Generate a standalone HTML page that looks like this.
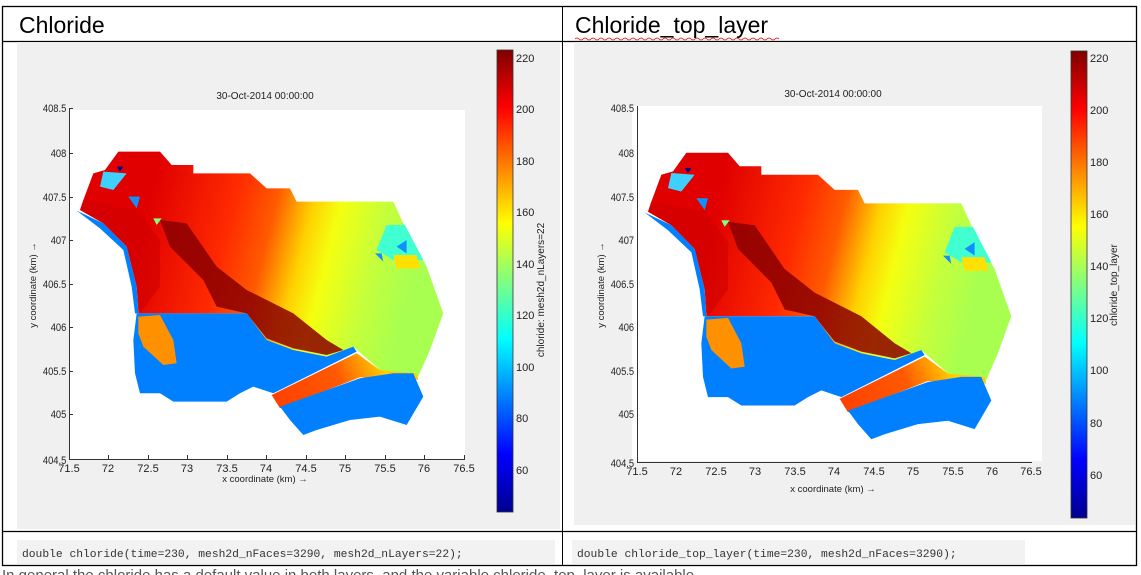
<!DOCTYPE html>
<html><head><meta charset="utf-8"><style>
html,body{margin:0;padding:0;background:#fff;}
body{width:1141px;height:575px;position:relative;overflow:hidden;font-family:"Liberation Sans",sans-serif;}
</style></head><body>
<svg width="1141" height="575" xmlns="http://www.w3.org/2000/svg" style="position:absolute;left:0;top:0">
<defs>
<linearGradient id="jet" x1="0" y1="1" x2="0" y2="0">
<stop offset="0" stop-color="#00008f"/><stop offset="0.125" stop-color="#0000ff"/>
<stop offset="0.375" stop-color="#00ffff"/><stop offset="0.5" stop-color="#80ff80"/><stop offset="0.625" stop-color="#ffff00"/>
<stop offset="0.875" stop-color="#ff0000"/><stop offset="1" stop-color="#800000"/>
</linearGradient>
<linearGradient id="warm" gradientUnits="userSpaceOnUse" x1="250" y1="250" x2="1050" y2="450">
<stop offset="0" stop-color="#e00000"/><stop offset="0.3" stop-color="#ff2a00"/>
<stop offset="0.45" stop-color="#ff5a00"/><stop offset="0.58" stop-color="#ffd000"/>
<stop offset="0.68" stop-color="#f4ff10"/><stop offset="0.85" stop-color="#c4ff3c"/><stop offset="1" stop-color="#a8ff50"/>
</linearGradient>
<linearGradient id="chan" gradientUnits="userSpaceOnUse" x1="640" y1="780" x2="960" y2="650">
<stop offset="0" stop-color="#ff4000"/><stop offset="0.6" stop-color="#ff5a00"/><stop offset="1" stop-color="#ffd000"/>
</linearGradient>
<g id="map">
<polygon fill="url(#warm)" points="175,35 300,35 335,75 400,75 400,100 570,100 620,145 690,145 710,185 1000,185 1030,250 1100,380 1150,520 1110,630 1070,720 960,690 880,620 800,650 700,630 620,600 560,520 300,520 235,520 230,440 200,320 130,250 60,210 70,180 100,100 135,90"/>
<polygon fill="#8a0000" opacity="0.85" points="300,240 380,250 470,380 560,450 700,520 800,600 850,630 800,645 700,625 620,595 560,520 470,500 430,420 330,320"/>
<polygon fill="#d00000" opacity="0.6" points="70,180 230,210 300,300 300,440 240,520 230,440 200,320 130,250 60,210"/>
<polygon fill="#0080ff" points="50,212 130,250 200,320 230,440 235,520 225,520 215,440 190,330 120,265"/>
<polygon fill="#0080ff" points="230,520 300,520 560,520 620,600 700,630 800,650 880,620 890,635 640,760 580,740 540,760 500,785 340,785 300,760 240,760 225,700 220,600"/>
<polygon fill="#ff9000" points="235,530 300,525 340,600 350,670 310,675 250,620 235,580"/>
<polygon fill="url(#chan)" points="635,765 890,640 960,690 1070,700 1075,720 900,712 660,805"/>
<polygon fill="#0080ff" points="660,800 900,715 1000,700 1060,700 1090,770 1040,855 960,830 870,840 770,870 730,885 690,840"/>
<polygon fill="#40ffd0" points="980,255 1035,255 1090,360 1000,360 950,330"/>
<polygon fill="#ffe000" points="1000,345 1070,345 1080,385 1010,385"/>
<polygon fill="#1090ff" points="1010,320 1040,300 1040,340"/>
<polygon fill="#1090ff" points="945,340 965,340 970,365"/>
<polygon fill="#40d0ff" points="130,95 200,100 160,150 120,140"/>
<polygon fill="#00008f" points="170,80 190,80 180,95"/>
<polygon fill="#80ff80" points="280,235 305,235 290,255"/>
<polygon fill="#1090ff" points="205,170 240,170 230,205"/>
</g>
</defs>

<rect x="2.5" y="6.5" width="1134" height="559" fill="none" stroke="#000" stroke-width="1.3"/>
<line x1="2" y1="41.5" x2="1137" y2="41.5" stroke="#000" stroke-width="1.3"/>
<line x1="2" y1="531.5" x2="1137" y2="531.5" stroke="#000" stroke-width="1.3"/>
<line x1="562.5" y1="6" x2="562.5" y2="566" stroke="#000" stroke-width="1"/>
<text x="19" y="33" font-size="23" font-family="Liberation Sans,sans-serif">Chloride</text>
<text x="575" y="33" font-size="23" font-family="Liberation Sans,sans-serif">Chloride_top_layer</text>
<path d="M575 39 q2 -2 4 0 t4 0 t4 0 t4 0 t4 0 t4 0 t4 0 t4 0 t4 0 t4 0 t4 0 t4 0 t4 0 t4 0 t4 0 t4 0 t4 0 t4 0 t4 0 t4 0 t4 0 t4 0 t4 0 t4 0 t4 0 t4 0 t4 0 t4 0 t4 0 t4 0 t4 0 t4 0 t4 0 t4 0 t4 0 t4 0 t4 0 t4 0 t4 0 t4 0 t4 0 t4 0 t4 0 t4 0 t4 0 t4 0 t4 0 t4 0 t4 0 t4 0 t4 0" stroke="#e00" fill="none" stroke-width="0.8"/>

<rect x="17" y="42" width="543" height="487" fill="#f0f0f0"/>
<rect x="69" y="110" width="396" height="350" fill="#fff"/>
<use href="#map" transform="translate(60,140) scale(0.3333)"/>
<g stroke="#333" stroke-width="1" fill="none">
<line x1="69.5" y1="108" x2="69.5" y2="460"/><line x1="69" y1="459.5" x2="465" y2="459.5"/>
</g>
<g font-size="11" fill="#222" text-anchor="end" font-family="Liberation Sans,sans-serif" transform="scale(0.85,1)">
<text x="78" y="112">408.5</text><text x="78" y="157">408</text><text x="78" y="201">407.5</text><text x="78" y="244">407</text><text x="78" y="288">406.5</text><text x="78" y="331">406</text><text x="78" y="375">405.5</text><text x="78" y="418">405</text><text x="78" y="464">404.5</text>
</g>
<g stroke="#333"><line x1="69" y1="108.5" x2="73" y2="108.5"/><line x1="69" y1="153.5" x2="73" y2="153.5"/><line x1="69" y1="197.5" x2="73" y2="197.5"/><line x1="69" y1="240.5" x2="73" y2="240.5"/><line x1="69" y1="284.5" x2="73" y2="284.5"/><line x1="69" y1="327.5" x2="73" y2="327.5"/><line x1="69" y1="371.5" x2="73" y2="371.5"/><line x1="69" y1="414.5" x2="73" y2="414.5"/>
<line x1="108.5" y1="455" x2="108.5" y2="460"/><line x1="148.5" y1="455" x2="148.5" y2="460"/><line x1="187.5" y1="455" x2="187.5" y2="460"/><line x1="227.5" y1="455" x2="227.5" y2="460"/><line x1="266.5" y1="455" x2="266.5" y2="460"/><line x1="306.5" y1="455" x2="306.5" y2="460"/><line x1="345.5" y1="455" x2="345.5" y2="460"/><line x1="385.5" y1="455" x2="385.5" y2="460"/><line x1="424.5" y1="455" x2="424.5" y2="460"/><line x1="464.5" y1="455" x2="464.5" y2="460"/></g>
<g font-size="11" fill="#222" text-anchor="middle" font-family="Liberation Sans,sans-serif">
<text x="69" y="472">71.5</text><text x="108" y="472">72</text><text x="148" y="472">72.5</text><text x="187" y="472">73</text><text x="227" y="472">73.5</text><text x="266" y="472">74</text><text x="306" y="472">74.5</text><text x="345" y="472">75</text><text x="385" y="472">75.5</text><text x="424" y="472">76</text><text x="464" y="472">76.5</text>
<text x="265" y="482" font-size="9.5">x coordinate (km) →</text>
<text x="265" y="99" font-size="10">30-Oct-2014 00:00:00</text>
<text transform="translate(36,285) rotate(-90)" font-size="9.5">y coordinate (km) →</text>
</g>
<rect x="497" y="50" width="16" height="462" fill="url(#jet)" stroke="#333" stroke-width="0.8"/>
<g font-size="11" fill="#222" font-family="Liberation Sans,sans-serif">
<text x="516" y="62">220</text><text x="516" y="113">200</text><text x="516" y="165">180</text><text x="516" y="216">160</text><text x="516" y="268">140</text><text x="516" y="319">120</text><text x="516" y="371">100</text><text x="516" y="422">80</text><text x="516" y="474">60</text>
<text transform="translate(544,290) rotate(-90)" font-size="10" text-anchor="middle">chloride: mesh2d_nLayers=22</text>
</g>

<rect x="574" y="42" width="561" height="483" fill="#f0f0f0"/>
<rect x="632" y="106" width="410" height="355" fill="#fff"/>
<use href="#map" transform="translate(628,141) scale(0.3333,0.337)"/>
<g stroke="#333" stroke-width="1" fill="none">
<line x1="637.5" y1="106" x2="637.5" y2="463"/><line x1="637" y1="462.5" x2="1032" y2="462.5"/>
</g>
<g font-size="11" fill="#222" text-anchor="end" font-family="Liberation Sans,sans-serif" transform="scale(0.85,1)">
<text x="746" y="112">408.5</text><text x="746" y="157">408</text><text x="746" y="201">407.5</text><text x="746" y="244">407</text><text x="746" y="288">406.5</text><text x="746" y="331">406</text><text x="746" y="375">405.5</text><text x="746" y="418">405</text><text x="746" y="467">404.5</text>
</g>
<g font-size="11" fill="#222" text-anchor="middle" font-family="Liberation Sans,sans-serif">
<text x="637" y="475">71.5</text><text x="676" y="475">72</text><text x="716" y="475">72.5</text><text x="755" y="475">73</text><text x="795" y="475">73.5</text><text x="834" y="475">74</text><text x="874" y="475">74.5</text><text x="913" y="475">75</text><text x="953" y="475">75.5</text><text x="992" y="475">76</text><text x="1031" y="475">76.5</text>
<text x="833" y="492" font-size="9.5">x coordinate (km) →</text>
<text x="833" y="97" font-size="10">30-Oct-2014 00:00:00</text>
<text transform="translate(604,285) rotate(-90)" font-size="9.5">y coordinate (km) →</text>
</g>
<rect x="1071" y="51" width="16" height="467" fill="url(#jet)" stroke="#333" stroke-width="0.8"/>
<g font-size="11" fill="#222" font-family="Liberation Sans,sans-serif">
<text x="1090" y="62">220</text><text x="1090" y="114">200</text><text x="1090" y="166">180</text><text x="1090" y="218">160</text><text x="1090" y="270">140</text><text x="1090" y="322">120</text><text x="1090" y="374">100</text><text x="1090" y="427">80</text><text x="1090" y="479">60</text>
<text transform="translate(1117,285) rotate(-90)" font-size="10" text-anchor="middle">chloride_top_layer</text>
</g>

<rect x="17" y="540" width="538" height="24" fill="#f2f2f2"/>
<rect x="572" y="540" width="453" height="24" fill="#f2f2f2"/>
<g font-family="Liberation Mono,monospace" font-size="11.3" fill="#333">
<text x="22" y="557">double chloride(time=230, mesh2d_nFaces=3290, mesh2d_nLayers=22);</text>
<text x="577" y="557">double chloride_top_layer(time=230, mesh2d_nFaces=3290);</text>
</g>
<text x="2" y="580" font-size="15" fill="#555" font-family="Liberation Sans,sans-serif">In general the chloride has a default value in both layers, and the variable chloride_top_layer is available</text>
</svg>
</body></html>
